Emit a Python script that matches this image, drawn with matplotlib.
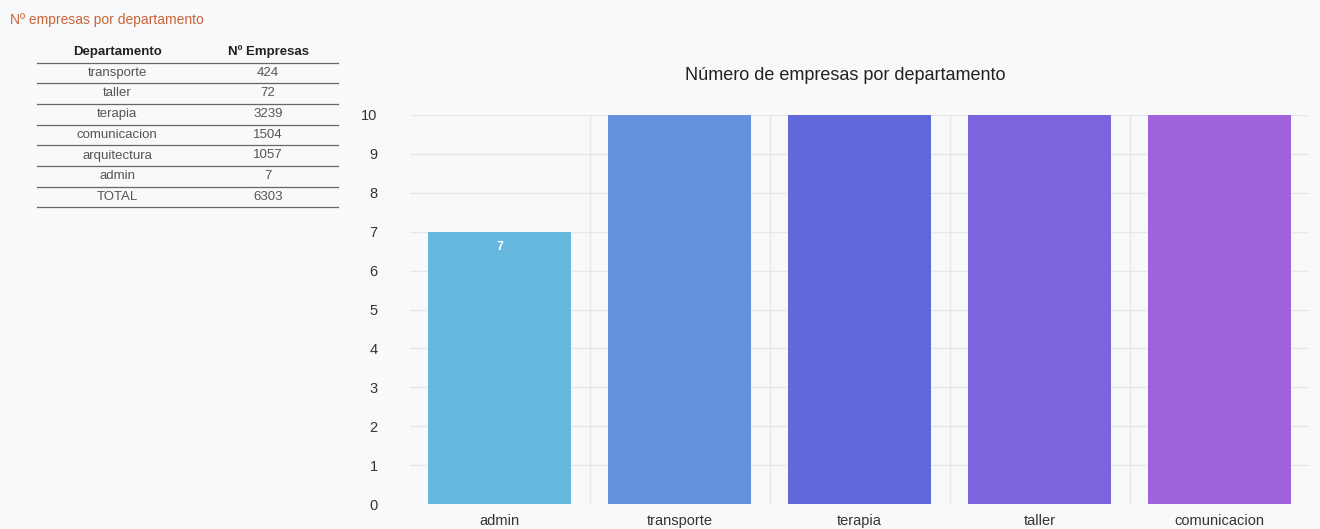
import numpy as np
import matplotlib.pyplot as plt

plt.rcParams['font.family'] = ['Liberation Sans', 'DejaVu Sans']

# table data
tabla_depto = ["transporte", "taller", "terapia", "comunicacion", "arquitectura", "admin", "TOTAL"]
tabla_num = [424, 72, 3239, 1504, 1057, 7, 6303]

# chart data
departamentos = ["admin", "transporte", "terapia", "taller", "comunicacion"]
empresas = [7, 424, 3239, 72, 1504]
colores = ["#67b8de", "#6592dc", "#6168d9", "#7c64dc", "#a163dc"]
ymax = 10

bg = "#f8f9fa"
fig = plt.figure(figsize=(13.2, 5.29), dpi=100, facecolor=bg)

# --- left table, drawn in pixel coords ---
axt = fig.add_axes([0, 0, 1, 1])
axt.set_xlim(0, 1320)
axt.set_ylim(529, 0)
axt.axis('off')
axt.patch.set_alpha(0)

axt.text(10, 20, "Nº empresas por departamento", color="#c9643a", fontsize=10, va="center", ha="left")
c1, c2 = 117, 268
y0, dy = 52, 20.7
axt.text(c1, y0, "Departamento", fontsize=9.5, fontweight="bold", ha="center", va="center", color="#222222")
axt.text(c2, y0, "Nº Empresas", fontsize=9.5, fontweight="bold", ha="center", va="center", color="#222222")
axt.plot([37, 338], [y0 + 10.7, y0 + 10.7], color="#666666", lw=0.9)
for i, (d, n) in enumerate(zip(tabla_depto, tabla_num)):
    yy = y0 + dy * (i + 1)
    axt.text(c1, yy, d, fontsize=9.5, ha="center", va="center", color="#555555")
    axt.text(c2, yy, str(n), fontsize=9.5, ha="center", va="center", color="#555555")
    axt.plot([37, 338], [yy + 10.5, yy + 10.5], color="#666666", lw=0.9)

# --- bar chart ---
ax = fig.add_axes([409.5 / 1320, 25 / 529, 900 / 1320, 389 / 529])
ax.set_facecolor(bg)
x = np.arange(len(departamentos))
bars = ax.bar(x, empresas, width=0.795, color=colores, zorder=3)
ax.set_xlim(-0.5, len(departamentos) - 0.5)
ax.set_ylim(0, ymax)
ax.set_yticks(range(0, ymax + 1))
ax.set_xticks(x)
ax.set_xticklabels(departamentos)
ax.tick_params(axis='both', length=0, labelsize=10.5, colors="#333333")
ax.tick_params(axis='y', pad=23)
ax.tick_params(axis='x', pad=7)
ax.grid(axis='y', color="#e6e7e9", lw=1, zorder=0)
for b in np.arange(0.5, len(departamentos), 1):
    ax.axvline(b, color="#e6e7e9", lw=1, zorder=0)
for s in ax.spines.values():
    s.set_visible(False)

for xi, v in zip(x, empresas):
    if v <= ymax:
        ax.text(xi, v - 0.4, str(v), color="white", fontsize=9, fontweight="bold",
                ha="center", va="center", zorder=4)

fig.text(845 / 1320, 1 - 76 / 529, "Número de empresas por departamento",
         fontsize=13, ha="center", va="center", color="#222222")

fig.savefig("out.png", dpi=100, facecolor=bg)
